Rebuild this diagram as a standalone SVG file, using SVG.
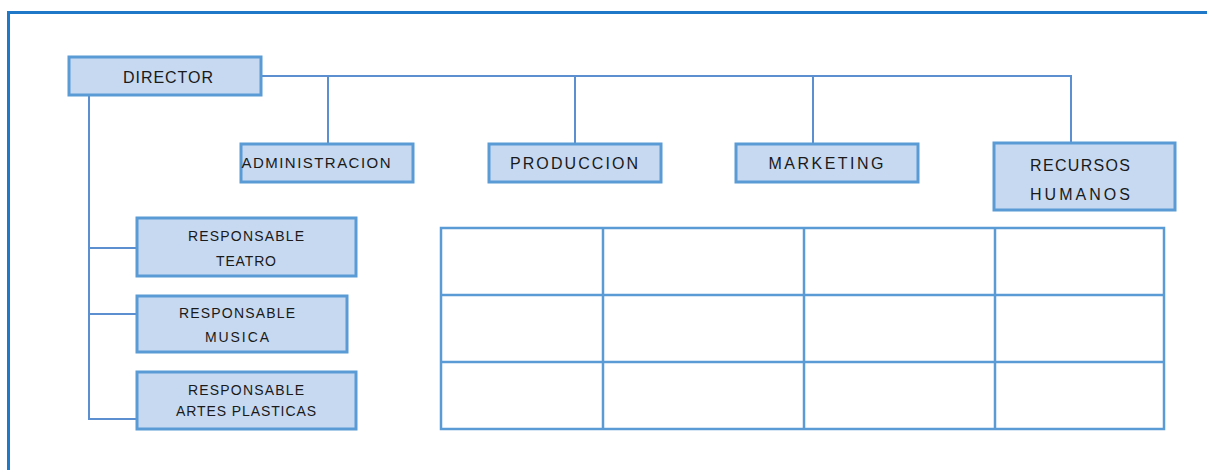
<svg xmlns="http://www.w3.org/2000/svg" width="1207" height="470" viewBox="0 0 1207 470">
<style>
.node rect{fill:#c6d9f1;stroke:#5b9bd5;stroke-width:3}
.node text{font-family:"Liberation Sans",Arial,sans-serif;fill:#1a1a1a;text-anchor:middle;dominant-baseline:central}
.conn{fill:none;stroke:#5b8fd0;stroke-width:2}
.tbl{fill:none;stroke:#5b9bd5;stroke-width:2.5}
</style>
<rect width="1207" height="470" fill="#ffffff"/>
<path d="M8.5,480 V12.5 H1220" fill="none" stroke="#1f78c8" stroke-width="3"/>
<g id="connectors">
<path class="conn" d="M262,76 H1071 V142 M328,76 V143 M575,76 V144 M813,76 V144"/>
<path class="conn" d="M89,96 V419 H137 M89,248 H137 M89,314 H137"/>
</g>
<g id="director" class="node"><rect x="69" y="57" width="192" height="38"/><text x="168" y="77" font-size="16" textLength="90" lengthAdjust="spacing">DIRECTOR</text></g>
<g id="administracion" class="node"><rect x="241" y="144" width="172" height="38"/><text x="316" y="162" font-size="15" textLength="149" lengthAdjust="spacing">ADMINISTRACION</text></g>
<g id="produccion" class="node"><rect x="489" y="144" width="172" height="38"/><text x="574" y="163" font-size="16" textLength="128" lengthAdjust="spacing">PRODUCCION</text></g>
<g id="marketing" class="node"><rect x="736" y="144" width="182" height="38"/><text x="826" y="163" font-size="16" textLength="115" lengthAdjust="spacing">MARKETING</text></g>
<g id="recursos-humanos" class="node"><rect x="994" y="143" width="181" height="67"/><text x="1080" y="165" font-size="16" textLength="100" lengthAdjust="spacing">RECURSOS</text><text x="1080" y="194" font-size="16" textLength="100" lengthAdjust="spacing">HUMANOS</text></g>
<g id="responsable-teatro" class="node"><rect x="137" y="218" width="219" height="58"/><text x="246" y="236" font-size="14" textLength="116" lengthAdjust="spacing">RESPONSABLE</text><text x="246" y="261" font-size="14" textLength="60" lengthAdjust="spacing">TEATRO</text></g>
<g id="responsable-musica" class="node"><rect x="137" y="296" width="210" height="56"/><text x="237" y="313" font-size="14" textLength="116" lengthAdjust="spacing">RESPONSABLE</text><text x="237" y="337" font-size="14" textLength="64" lengthAdjust="spacing">MUSICA</text></g>
<g id="responsable-artes" class="node"><rect x="137" y="372" width="219" height="57"/><text x="246" y="390" font-size="14" textLength="116" lengthAdjust="spacing">RESPONSABLE</text><text x="246" y="411" font-size="14" textLength="140" lengthAdjust="spacing">ARTES PLASTICAS</text></g>
<g id="table">
<rect class="tbl" x="441" y="228" width="723" height="201"/>
<path class="tbl" d="M441,295 H1164 M441,362 H1164 M603,228 V429 M804,228 V429 M995,228 V429"/>
</g>
</svg>
